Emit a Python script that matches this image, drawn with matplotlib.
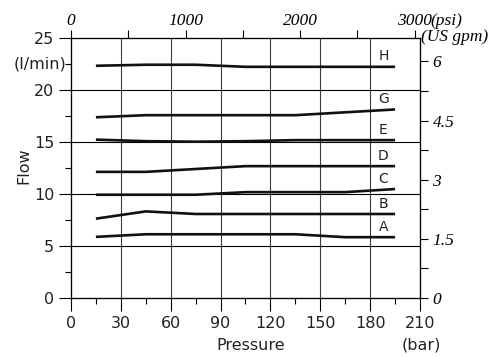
import matplotlib
matplotlib.use("Agg")
import matplotlib.pyplot as plt
from matplotlib.ticker import MultipleLocator

# Datos (presion en bar, caudal en l/min)
p_a = [15, 45, 135, 165, 195]
q_a = [5.85, 6.1, 6.1, 5.82, 5.82]
p_b = [15, 45, 75, 195]
q_b = [7.6, 8.3, 8.05, 8.05]
p_c = [15, 75, 105, 165, 195]
q_c = [9.9, 9.9, 10.15, 10.15, 10.45]
p_d = [15, 45, 105, 195]
q_d = [12.1, 12.1, 12.65, 12.65]
p_e = [15, 45, 75, 105, 135, 195]
q_e = [15.2, 15.05, 15.0, 15.05, 15.15, 15.15]
p_g = [15, 45, 135, 195]
q_g = [17.35, 17.55, 17.55, 18.1]
p_h = [15, 45, 75, 105, 195]
q_h = [22.3, 22.4, 22.4, 22.2, 22.2]

curvas = [("A", p_a, q_a), ("B", p_b, q_b), ("C", p_c, q_c), ("D", p_d, q_d),
          ("E", p_e, q_e), ("G", p_g, q_g), ("H", p_h, q_h)]

x_ticks = [0, 30, 60, 90, 120, 150, 180, 210]
y_ticks = [0, 5, 10, 15, 20, 25]
psi_ticks = [0, 1000, 2000, 3000]
gpm_ticks = [0, 1.5, 3, 4.5, 6]
gpm_labels = ["0", "1.5", "3", "4.5", "6"]

BAR_TO_PSI = 14.5037738
GPM_TO_LPM = 3.785411784

serif_it = dict(family="Liberation Serif", style="italic", size=12.5)

fig = plt.figure(figsize=(4.96, 3.58), dpi=100)
ax = fig.add_axes([0.1431, 0.1684, 0.7037, 0.7263])
ax.set_xlim(0, 210)
ax.set_ylim(0, 25)

# rejilla
for x in x_ticks[1:-1]:
    ax.axvline(x, color="#3c3c3c", lw=0.8, zorder=1)
for y in y_ticks[1:-1]:
    ax.axhline(y, color="black", lw=0.8, zorder=1)

for letra, p, q in curvas:
    ax.plot(p, q, color="#111111", lw=1.9, solid_capstyle="butt", zorder=3)
    ax.text(188, q[-1] + 1.0, letra, ha="center", va="center",
            fontsize=10, color="#222222")

ax.set_xticks(x_ticks)
ax.set_yticks(y_ticks)
ax.xaxis.set_minor_locator(MultipleLocator(15))
ax.yaxis.set_minor_locator(MultipleLocator(2.5))
ax.tick_params(which="major", direction="out", length=9, width=0.8,
               labelsize=11.5, labelcolor="#222222", pad=3)
ax.tick_params(axis="x", which="major", pad=4)
ax.tick_params(which="minor", direction="out", length=4, width=0.8)
for s in ax.spines.values():
    s.set_linewidth(0.8)

# eje derecho en US gpm
ax2 = ax.twinx()
ax2.set_ylim(0, 25 / GPM_TO_LPM)
ax2.set_yticks(gpm_ticks)
ax2.set_yticklabels(gpm_labels, **serif_it)
ax2.yaxis.set_minor_locator(MultipleLocator(0.75))
ax2.tick_params(which="both", direction="out", length=6, width=0.8, pad=3)

# eje superior en psi
ax3 = ax.twiny()
ax3.set_xlim(0, 210 * BAR_TO_PSI)
ax3.set_xticks(psi_ticks)
ax3.set_xticklabels([str(t) for t in psi_ticks], **serif_it)
ax3.xaxis.set_minor_locator(MultipleLocator(500))
ax3.tick_params(which="both", direction="out", length=6, width=0.8, pad=0.5)

fig.text(430 / 496, 1 - 21 / 358, "(psi)", ha="left", va="center", **serif_it)
fig.text(421 / 496, 1 - 37 / 358, "(US gpm)", ha="left", va="center", **serif_it)
fig.text(66 / 496, 1 - 64 / 358, "(l/min)", ha="right", va="center",
         fontsize=11.5, color="#222222")
fig.text(24 / 496, 1 - 166 / 358, "Flow", rotation=90, ha="center", va="center",
         fontsize=11.5, color="#222222")
fig.text(251 / 496, 1 - 345 / 358, "Pressure", ha="center", va="center",
         fontsize=11.5, color="#222222")
fig.text(421 / 496, 1 - 345 / 358, "(bar)", ha="center", va="center",
         fontsize=11.5, color="#222222")

fig.savefig("out.png", dpi=100)
